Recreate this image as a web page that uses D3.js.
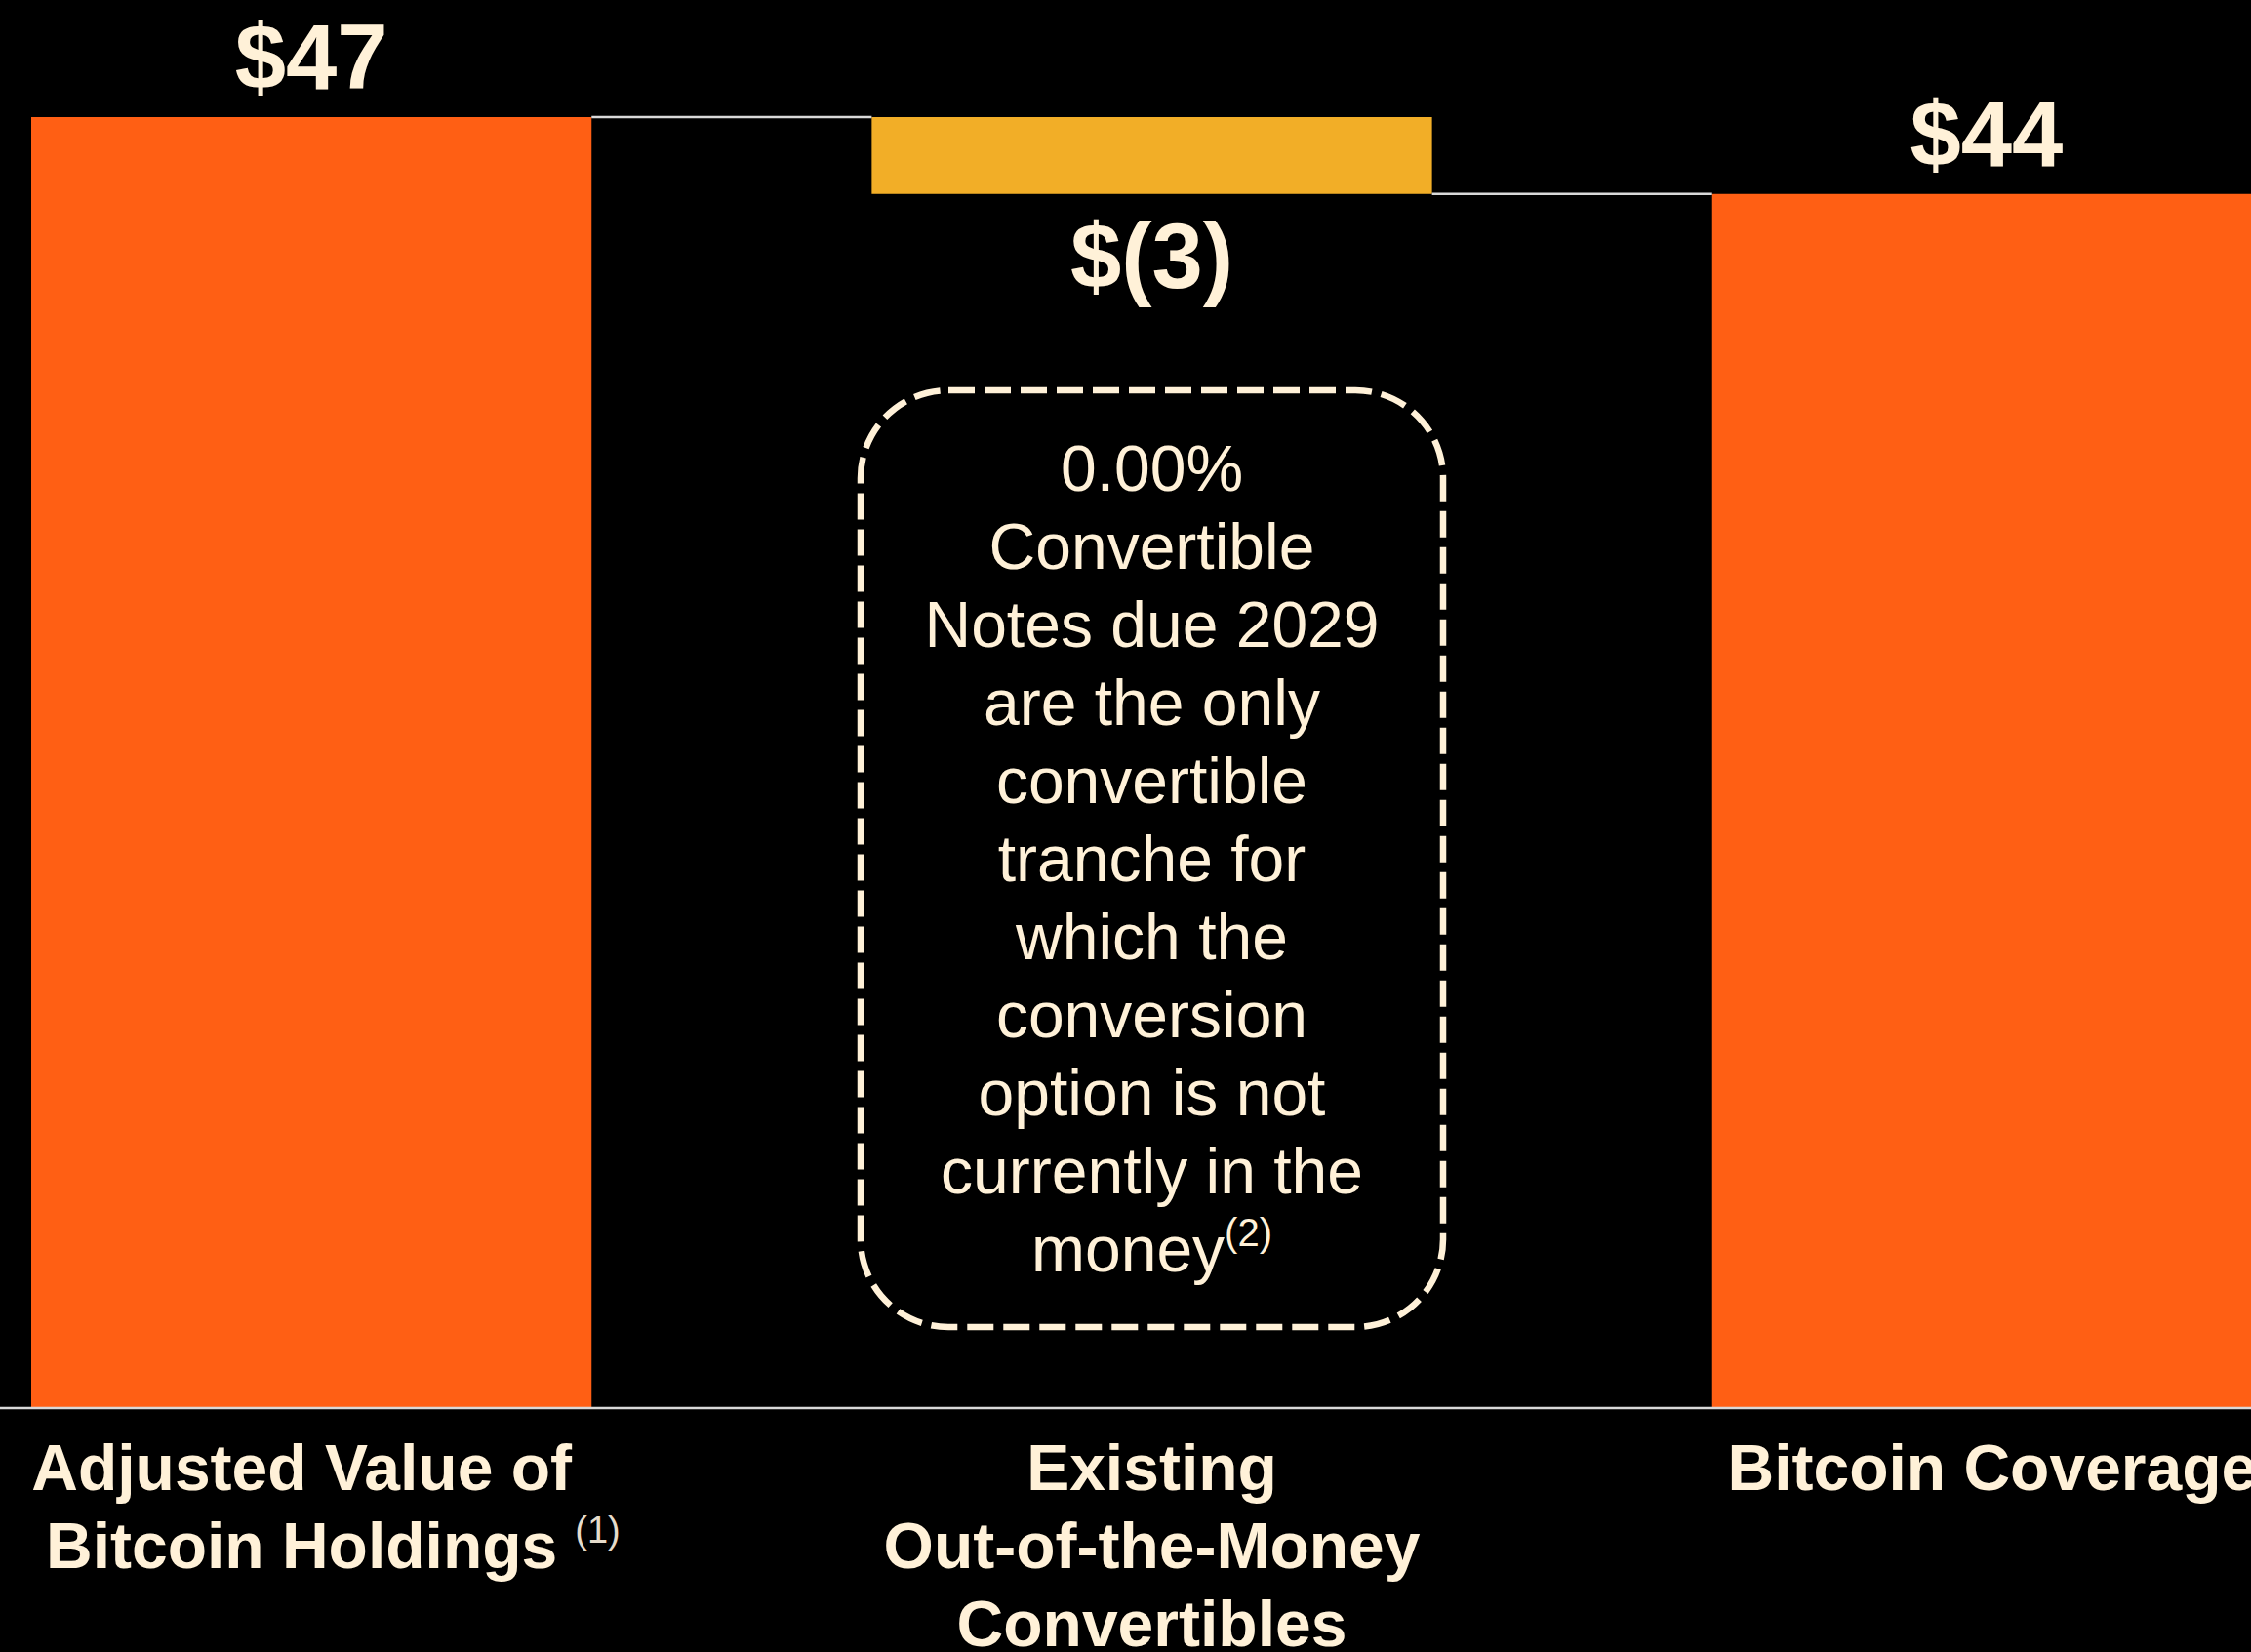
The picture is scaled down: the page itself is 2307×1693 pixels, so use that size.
<!DOCTYPE html>
<html lang="en">
<head>
<meta charset="UTF-8">
<script src="https://d3js.org/d3.v7.min.js"></script>
<style>
  html, body { margin: 0; padding: 0; background: #000; }
  svg { display: block; }
  text { font-family: "Liberation Sans", Arial, sans-serif; }
</style>
</head>
<body>
<div id="chart"></div>
<script>
// data (US$ billions)
const categories = ["Adjusted Value of Bitcoin Holdings", "Existing Out-of-the-Money Convertibles", "Bitcoin Coverage"];
const categoryLines = [["Adjusted Value of", "Bitcoin Holdings"], ["Existing", "Out-of-the-Money", "Convertibles"], ["Bitcoin Coverage"]];
const categoryNotes = ["(1)", "", ""];
const values = [47, -2.8, 44.2];
const kinds = ["total", "delta", "total"];
const valueLabels = ["$47", "$(3)", "$44"];
const noteLines = ["0.00%", "Convertible", "Notes due 2029", "are the only", "convertible", "tranche for", "which the", "conversion", "option is not", "currently in the", "money"];
const noteRef = "(2)";

function drawChart() {
  const width = 2307, height = 1693;
  const cream = "#fff1d8";
  const orange = "#ff5f14";
  const yellow = "#f2ae27";
  const lineColor = "#d9d9d9";

  // waterfall start/end for each bar
  let running = 0;
  const bars = categories.map((c, i) => {
    let y0, y1;
    if (kinds[i] === "total") { y0 = 0; y1 = values[i]; running = values[i]; }
    else { y0 = running; y1 = running + values[i]; running = y1; }
    return {cat: c, y0, y1, kind: kinds[i], label: valueLabels[i], lines: categoryLines[i], note: categoryNotes[i]};
  });

  const x = d3.scaleBand()
      .domain(categories)
      .range([32, 2329])
      .paddingInner(1 / 3)
      .paddingOuter(0);

  const y = d3.scaleLinear()
      .domain([0, 47])
      .range([1442, 120]);

  const svg = d3.select("#chart").append("svg")
      .attr("width", width)
      .attr("height", height);

  svg.append("rect").attr("width", width).attr("height", height).attr("fill", "#000");

  // bars
  svg.selectAll("rect.bar")
    .data(bars)
    .join("rect")
      .attr("class", "bar")
      .attr("x", d => x(d.cat))
      .attr("width", x.bandwidth())
      .attr("y", d => y(Math.max(d.y0, d.y1)))
      .attr("height", d => Math.abs(y(d.y0) - y(d.y1)))
      .attr("fill", d => d.kind === "total" ? orange : yellow);

  // connectors between bars
  for (let i = 0; i < bars.length - 1; i++) {
    const level = bars[i].y1;
    svg.append("line")
        .attr("x1", x(bars[i].cat) + x.bandwidth())
        .attr("x2", x(bars[i + 1].cat))
        .attr("y1", y(level)).attr("y2", y(level))
        .attr("stroke", lineColor)
        .attr("stroke-width", 2.5);
  }

  // baseline
  svg.append("line")
      .attr("x1", 0).attr("x2", width)
      .attr("y1", y(0) + 1).attr("y2", y(0) + 1)
      .attr("stroke", lineColor)
      .attr("stroke-width", 2.5);

  // value labels
  svg.selectAll("text.value")
    .data(bars)
    .join("text")
      .attr("class", "value")
      .attr("x", d => x(d.cat) + x.bandwidth() / 2 + (d.kind === "total" && d.cat === categories[2] ? -6 : 0))
      .attr("y", d => d.kind === "delta" ? y(Math.min(d.y0, d.y1)) + 96 : y(d.y1) - 29)
      .attr("text-anchor", "middle")
      .attr("font-size", 94)
      .attr("font-weight", "bold")
      .attr("fill", cream)
      .text(d => d.label);

  // category labels
  bars.forEach((d, i) => {
    const cx = x(d.cat) + x.bandwidth() / 2 + (d.note ? -10 : 0);
    d.lines.forEach((ln, j) => {
      const t = svg.append("text")
          .attr("x", cx)
          .attr("y", 1527 + j * 80)
          .attr("text-anchor", "middle")
          .attr("font-size", 66)
          .attr("font-weight", "bold")
          .attr("fill", cream)
          .text(ln);
      if (d.note && j === d.lines.length - 1) {
        const w = t.node().getComputedTextLength();
        svg.append("text")
            .attr("x", cx + w / 2 + 18)
            .attr("y", 1527 + j * 80 - 26)
            .attr("font-size", 38)
            .attr("fill", "#e6dccb")
            .text(d.note);
      }
    });
  });

  // dashed call-out box under the convertibles bar
  const mid = x(categories[1]) + x.bandwidth() / 2;
  svg.append("rect")
      .attr("x", 882).attr("y", 400)
      .attr("width", 597).attr("height", 960)
      .attr("rx", 90).attr("ry", 90)
      .attr("fill", "none")
      .attr("stroke", cream)
      .attr("stroke-width", 6.5)
      .attr("stroke-dasharray", "27,10");

  noteLines.forEach((ln, j) => {
    const t = svg.append("text")
        .attr("x", mid)
        .attr("y", 503 + j * 80)
        .attr("text-anchor", "middle")
        .attr("font-size", 66)
        .attr("fill", cream);
    t.append("tspan").text(ln);
    if (j === noteLines.length - 1) {
      t.append("tspan")
          .attr("dy", -26)
          .attr("font-size", 40)
          .text(noteRef);
    }
  });
}

drawChart();
</script>
</body>
</html>
